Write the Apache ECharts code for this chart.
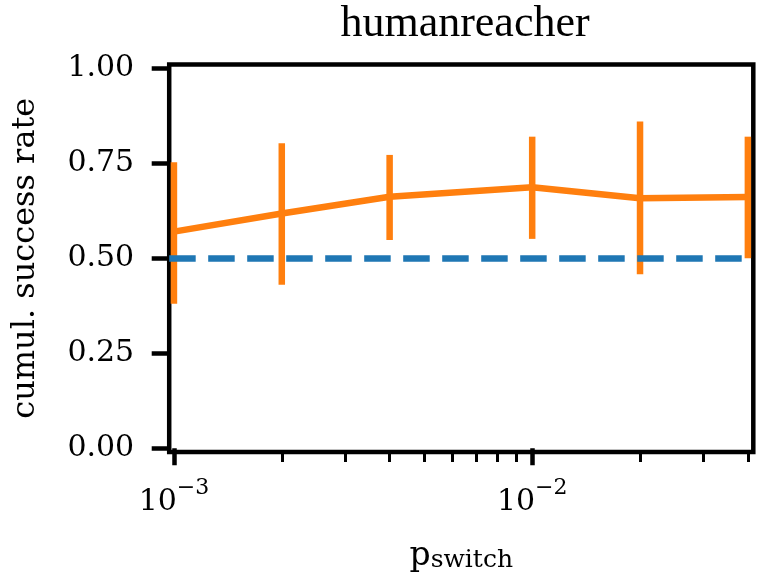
<!DOCTYPE html>
<html>
<head>
<meta charset="utf-8">
<script src="https://cdn.jsdelivr.net/npm/echarts@6/dist/echarts.min.js"></script>
<style>
html,body{margin:0;padding:0;background:#fff;}
#chart{width:759px;height:582px;}
</style>
</head>
<body>
<div id="chart"></div>
<script>
// ---- data ----
var titleText = 'humanreacher';
var xName = 'p';
var xNameSub = 'switch';
var yName = 'cumul. success rate';
var pSwitch = [0.001, 0.002, 0.004, 0.01, 0.02, 0.04];
var meanRate = [0.570, 0.618, 0.662, 0.687, 0.658, 0.661];
var lowRate = [0.380, 0.430, 0.548, 0.551, 0.458, 0.500];
var highRate = [0.753, 0.803, 0.772, 0.820, 0.860, 0.820];
var baselineRate = 0.5;
var xRange = [0.00097, 0.04142];
var yRange = [-0.01, 1.01];
var xMajorTicks = [0.001, 0.01];
var xTickExponents = ['\u22123', '\u22122'];
var xMinorTicks = [0.002, 0.003, 0.004, 0.005, 0.006, 0.007, 0.008, 0.009, 0.02, 0.03, 0.04];
var yTicks = [0, 0.25, 0.5, 0.75, 1.0];
var yTickLabels = ['0.00', '0.25', '0.50', '0.75', '1.00'];

var ORANGE = '#ff7f0e';
var BLUE = '#1f77b4';
var FONT = 'DejaVu Serif';

var lineData = pSwitch.map(function (x, i) { return [x, meanRate[i]]; });
var errData = pSwitch.map(function (x, i) { return [x, lowRate[i], highRate[i]]; });

var chart = echarts.init(document.getElementById('chart'), null, {renderer: 'canvas'});
chart.setOption({
  animation: false,
  backgroundColor: '#fff',
  title: {
    text: titleText,
    left: 460,
    top: -3,
    textAlign: 'center',
    textStyle: {fontFamily: 'Liberation Serif', fontSize: 44, fontWeight: 'normal', color: '#000'}
  },
  grid: {
    left: 169.2, right: 5.7, top: 64.5, bottom: 130,
    show: true, borderColor: '#000', borderWidth: 4.5, backgroundColor: 'transparent'
  },
  xAxis: [{
    type: 'log', logBase: 10, position: 'bottom',
    min: xRange[0], max: xRange[1],
    axisLine: {show: false},
    splitLine: {show: false},
    axisTick: {show: true, length: 17, customValues: xMajorTicks, lineStyle: {color: '#000', width: 4.5}},
    axisLabel: {
      show: true, margin: 25, customValues: xMajorTicks,
      formatter: function (v) {
        var idx = 0, best = Infinity;
        for (var i = 0; i < xMajorTicks.length; i++) {
          var d = Math.abs(Math.log10(v) - Math.log10(xMajorTicks[i]));
          if (d < best) { best = d; idx = i; }
        }
        return '{b|10}{s|' + xTickExponents[idx] + '}';
      },
      rich: {
        b: {fontFamily: FONT, fontSize: 30, lineHeight: 40, verticalAlign: 'bottom', color: '#000'},
        s: {fontFamily: FONT, fontSize: 22, lineHeight: 22, verticalAlign: 'top', color: '#000'}
      }
    },
    name: '{p|' + xName + '}{s|' + xNameSub + '}',
    nameLocation: 'middle',
    nameGap: 85,
    nameTextStyle: {
      rich: {
        p: {fontFamily: FONT, fontSize: 33, lineHeight: 36, verticalAlign: 'bottom', color: '#000'},
        s: {fontFamily: FONT, fontSize: 25, lineHeight: 28, verticalAlign: 'bottom', color: '#000'}
      }
    }
  }, {
    type: 'log', logBase: 10, position: 'bottom',
    min: xRange[0], max: xRange[1],
    axisLine: {show: false},
    splitLine: {show: false},
    axisLabel: {show: false},
    axisTick: {show: true, length: 10, customValues: xMinorTicks, lineStyle: {color: '#000', width: 3}}
  }],
  yAxis: {
    type: 'value',
    min: yRange[0], max: yRange[1],
    axisLine: {show: false},
    splitLine: {show: false},
    axisTick: {show: true, length: 17.5, customValues: yTicks, lineStyle: {color: '#000', width: 4.5}},
    axisLabel: {
      show: true, margin: 35, customValues: yTicks,
      fontFamily: FONT, fontSize: 30, color: '#000',
      formatter: function (v) {
        for (var i = 0; i < yTicks.length; i++) {
          if (Math.abs(v - yTicks[i]) < 1e-9) return yTickLabels[i];
        }
        return '';
      }
    },
    name: yName,
    nameLocation: 'middle',
    nameRotate: 90,
    nameGap: 128,
    nameTextStyle: {fontFamily: FONT, fontSize: 32, color: '#000'}
  },
  series: [{
    name: 'baseline',
    type: 'line',
    data: [],
    z: 1,
    markLine: {
      silent: true,
      symbol: 'none',
      label: {show: false},
      lineStyle: {color: BLUE, width: 6.5, type: [26.5, 12.5], cap: 'butt'},
      data: [{yAxis: baselineRate}],
      animation: false
    }
  }, {
    name: 'mean',
    type: 'line',
    data: lineData,
    symbol: 'none',
    z: 3,
    lineStyle: {color: ORANGE, width: 6.5, join: 'round', cap: 'butt'}
  }, {
    name: 'err',
    type: 'custom',
    data: errData,
    z: 4,
    renderItem: function (params, api) {
      var x = api.value(0);
      var p1 = api.coord([x, api.value(1)]);
      var p2 = api.coord([x, api.value(2)]);
      return {
        type: 'line',
        shape: {x1: p1[0], y1: p1[1], x2: p2[0], y2: p2[1]},
        style: {stroke: ORANGE, lineWidth: 6.5, lineCap: 'butt'}
      };
    }
  }]
});
</script>
</body>
</html>
